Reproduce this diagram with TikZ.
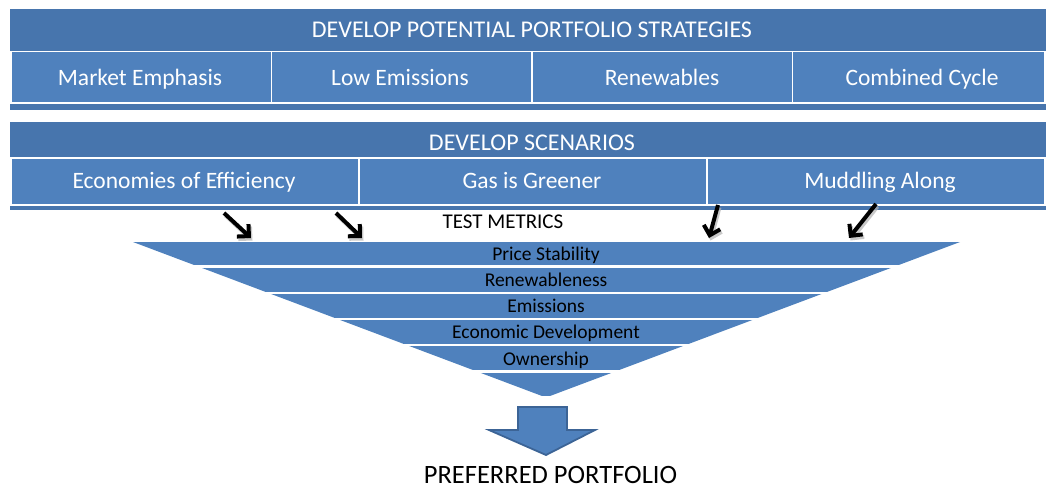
\documentclass[tikz,border=0pt]{standalone}
\usepackage{fontspec}
\setmainfont{Carlito}
\usetikzlibrary{arrows.meta}
\definecolor{bandark}{HTML}{4775AD}
\definecolor{boxblue}{HTML}{4F81BD}
\definecolor{arrowedge}{HTML}{3C6496}
\tikzset{
  banner/.style={fill=bandark, draw=none},
  subbox/.style={fill=boxblue, draw=white, line width=1.6pt, inner sep=0pt},
  headtxt/.style={text=white, font=\fontsize{24}{28}\selectfont, inner sep=0pt, anchor=base},
  subtxt/.style={text=white, font=\fontsize{23.5}{28}\selectfont, inner sep=0pt, anchor=base},
  funtxt/.style={text=black, font=\fontsize{19.5}{23}\selectfont, inner sep=0pt, anchor=base},
  band/.style={fill=boxblue},
  metricarrow/.style={line width=4pt, -{Straight Barb[length=8.5pt, width=17pt, line width=4pt]}, black},
  arrowshadow/.style={line width=4pt, -{Straight Barb[length=8.5pt, width=17pt, line width=4pt]}, black!30, opacity=0.7}
}
\begin{document}
\begin{tikzpicture}[x=1pt, y=-1pt]
\useasboundingbox (0,0) rectangle (1048,489);
% banner 1
\fill[banner] (10,9) rectangle (1046,110);
\node[headtxt] (h1) at (532,38) {DEVELOP POTENTIAL PORTFOLIO STRATEGIES};
\node[subbox, minimum width=260.5pt, minimum height=51.5pt] (s1) at (141.25,77.25) {};
\node[subbox, minimum width=260.5pt, minimum height=51.5pt] (s2) at (401.75,77.25) {};
\node[subbox, minimum width=260.5pt, minimum height=51.5pt] (s3) at (662.25,77.25) {};
\node[subbox, minimum width=252.5pt, minimum height=51.5pt] (s4) at (918.75,77.25) {};
\node[subtxt] (s1t) at (140,85.5) {Market Emphasis};
\node[subtxt] (s2t) at (400,85.5) {Low Emissions};
\node[subtxt] (s3t) at (662,85.5) {Renewables};
\node[subtxt] (s4t) at (922,85.5) {Combined Cycle};
% banner 2
\fill[banner] (10,122) rectangle (1046,210);
\node[headtxt] (h2) at (532,151) {DEVELOP SCENARIOS};
\node[subbox, minimum width=348pt, minimum height=47pt] (c1) at (185,181.5) {};
\node[subbox, minimum width=348pt, minimum height=47pt] (c2) at (533,181.5) {};
\node[subbox, minimum width=338pt, minimum height=47pt] (c3) at (876,181.5) {};
\node[subtxt] (c1t) at (184,189) {Economies of Efficiency};
\node[subtxt] (c2t) at (532,189) {Gas is Greener};
\node[subtxt] (c3t) at (880,189) {Muddling Along};
% test metrics
\node[funtxt, font=\fontsize{21}{25}\selectfont] (tm) at (503,228.5) {TEST METRICS};
% funnel
\begin{scope}
\clip (133,242) -- (960,242) -- (546,397.5) -- cycle;
\foreach \i in {0,...,5} {
  \fill[band] (100,{242+26.1*\i}) rectangle (1000,{242+26.1*\i+23.4});
}
\end{scope}
\node[funtxt] (f1) at (546,260.5) {Price Stability};
\node[funtxt] (f2) at (546,286.5) {Renewableness};
\node[funtxt] (f3) at (546,312.5) {Emissions};
\node[funtxt] (f4) at (546,338.5) {Economic Development};
\node[funtxt] (f5) at (546,365) {Ownership};
% metric arrows
\coordinate (a1s) at (224,213); \coordinate (a1e) at (251,238);
\coordinate (a2s) at (336,213); \coordinate (a2e) at (362,238);
\coordinate (a3s) at (718,205); \coordinate (a3e) at (709,238);
\coordinate (a4s) at (876,204); \coordinate (a4e) at (849,238);
\foreach \s/\e in {a1s/a1e,a2s/a2e,a3s/a3e,a4s/a4e} {
  \draw[arrowshadow] ([shift={(1.5,2.5)}]\s) -- ([shift={(1.5,2.5)}]\e);
  \draw[metricarrow] (\s) -- (\e);
}
% block arrow
\coordinate (ba1) at (518,407);
\coordinate (ba2) at (567,407);
\coordinate (ba3) at (567,430);
\coordinate (ba4) at (595,430);
\coordinate (ba5) at (546,455);
\coordinate (ba6) at (489,430);
\coordinate (ba7) at (518,430);
\draw[fill=boxblue, draw=arrowedge, line width=1.8pt, line join=miter] (ba1) -- (ba2) -- (ba3) -- (ba4) -- (ba5) -- (ba6) -- (ba7) -- cycle;
\node[funtxt, font=\fontsize{26.5}{30}\selectfont] (pp) at (550.5,483) {PREFERRED PORTFOLIO};
\end{tikzpicture}
\end{document}
